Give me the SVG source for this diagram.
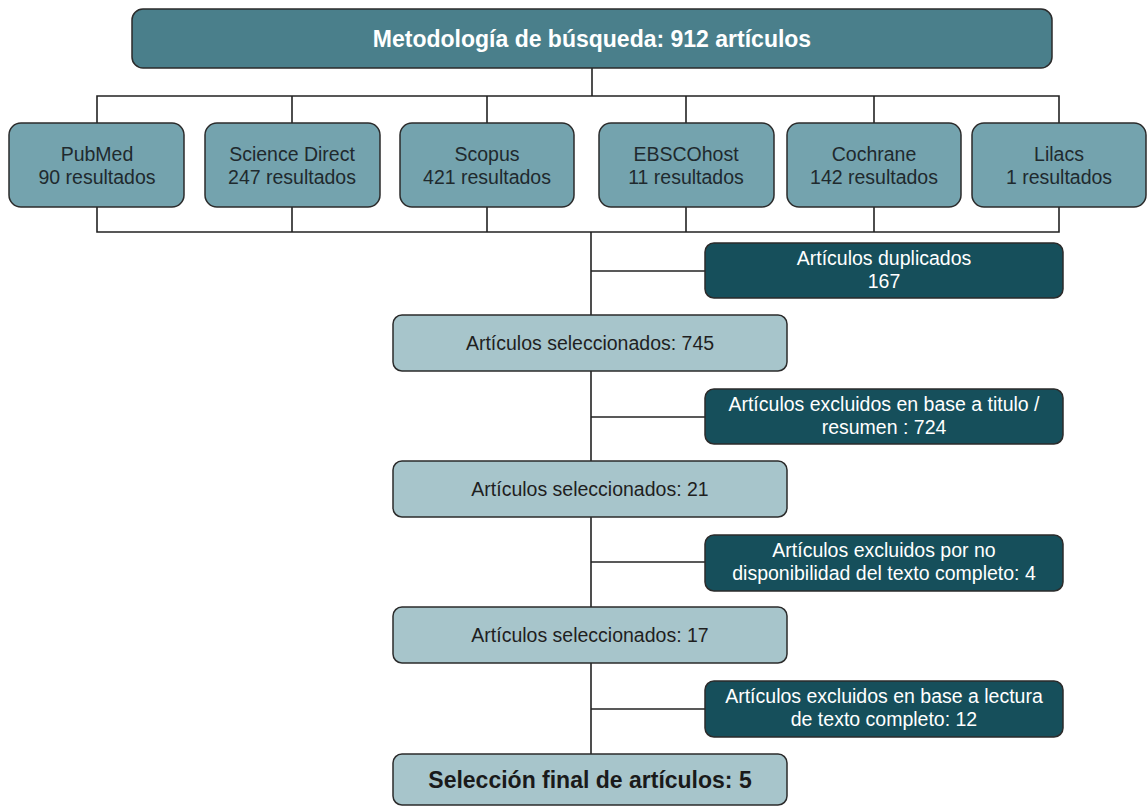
<svg xmlns="http://www.w3.org/2000/svg" width="1148" height="806" viewBox="0 0 1148 806">
<style>
  .box { stroke: #2b2b2b; stroke-width: 1.5; }
  .top { fill: #4a7f8b; }
  .src { fill: #74a3ae; }
  .dark { fill: #164f5b; }
  .light { fill: #a7c5cb; }
  text { font-family: "Liberation Sans", Arial, sans-serif; text-anchor: middle; }
  .t1 { font-size: 23px; font-weight: bold; fill: #ffffff; }
  .ts { font-size: 19.5px; fill: #1f2a2e; }
  .tw { font-size: 19.5px; fill: #ffffff; }
  .tl { font-size: 19.5px; fill: #1f1f1f; }
  .tb { font-size: 23px; font-weight: bold; fill: #1a1a1a; }
  .conn { fill: none; stroke: #222222; stroke-width: 1.6; }
</style>
<rect width="1148" height="806" fill="#ffffff"/>
<g id="connectors" class="conn">
  <path d="M592 68 V96"/>
  <path d="M97 123 V96 H1059 V123"/>
  <path d="M292 96 V123 M487 96 V123 M686 96 V123 M874 96 V123"/>
  <path d="M97 207 V232 H1059 V207"/>
  <path d="M292 207 V232 M487 207 V232 M686 207 V232 M874 207 V232"/>
  <path d="M591 232 V315"/>
  <path d="M591 271 H705"/>
  <path d="M591 371 V461"/>
  <path d="M591 417 H705"/>
  <path d="M591 517 V607"/>
  <path d="M591 562 H705"/>
  <path d="M591 663 V754"/>
  <path d="M591 709 H705"/>
</g>
<g id="n-top">
  <rect class="box top" x="132" y="9" width="920" height="59" rx="11"/>
  <text class="t1" x="592" y="47">Metodología de búsqueda: 912 artículos</text>
</g>
<g id="n-pubmed">
  <rect class="box src" x="9" y="123" width="175" height="84" rx="12"/>
  <text class="ts" x="97" y="161">PubMed</text>
  <text class="ts" x="97" y="184">90 resultados</text>
</g>
<g id="n-sciencedirect">
  <rect class="box src" x="205" y="123" width="175" height="84" rx="12"/>
  <text class="ts" x="292" y="161">Science Direct</text>
  <text class="ts" x="292" y="184">247 resultados</text>
</g>
<g id="n-scopus">
  <rect class="box src" x="400" y="123" width="174" height="84" rx="12"/>
  <text class="ts" x="487" y="161">Scopus</text>
  <text class="ts" x="487" y="184">421 resultados</text>
</g>
<g id="n-ebsco">
  <rect class="box src" x="599" y="123" width="175" height="84" rx="12"/>
  <text class="ts" x="686" y="161">EBSCOhost</text>
  <text class="ts" x="686" y="184">11 resultados</text>
</g>
<g id="n-cochrane">
  <rect class="box src" x="787" y="123" width="174" height="84" rx="12"/>
  <text class="ts" x="874" y="161">Cochrane</text>
  <text class="ts" x="874" y="184">142 resultados</text>
</g>
<g id="n-lilacs">
  <rect class="box src" x="972" y="123" width="174" height="84" rx="12"/>
  <text class="ts" x="1059" y="161">Lilacs</text>
  <text class="ts" x="1059" y="184">1 resultados</text>
</g>
<g id="n-duplicados">
  <rect class="box dark" x="705" y="243" width="358" height="55" rx="9"/>
  <text class="tw" x="884" y="265">Artículos duplicados</text>
  <text class="tw" x="884" y="288">167</text>
</g>
<g id="n-sel745">
  <rect class="box light" x="393" y="315" width="394" height="56" rx="9"/>
  <text class="tl" x="590" y="350">Artículos seleccionados: 745</text>
</g>
<g id="n-excl-titulo">
  <rect class="box dark" x="705" y="389" width="358" height="55" rx="9"/>
  <text class="tw" x="884" y="411">Artículos excluidos en base a titulo /</text>
  <text class="tw" x="884" y="434">resumen : 724</text>
</g>
<g id="n-sel21">
  <rect class="box light" x="393" y="461" width="394" height="56" rx="9"/>
  <text class="tl" x="590" y="496">Artículos seleccionados: 21</text>
</g>
<g id="n-excl-disp">
  <rect class="box dark" x="705" y="535" width="358" height="56" rx="9"/>
  <text class="tw" x="884" y="557">Artículos excluidos por no</text>
  <text class="tw" x="884" y="580">disponibilidad del texto completo: 4</text>
</g>
<g id="n-sel17">
  <rect class="box light" x="393" y="607" width="394" height="56" rx="9"/>
  <text class="tl" x="590" y="642">Artículos seleccionados: 17</text>
</g>
<g id="n-excl-lectura">
  <rect class="box dark" x="705" y="681" width="358" height="56" rx="9"/>
  <text class="tw" x="884" y="703">Artículos excluidos en base a lectura</text>
  <text class="tw" x="884" y="726">de texto completo: 12</text>
</g>
<g id="n-final">
  <rect class="box light" x="393" y="754" width="394" height="51" rx="9"/>
  <text class="tb" x="590" y="788">Selección final de artículos: 5</text>
</g>
</svg>
